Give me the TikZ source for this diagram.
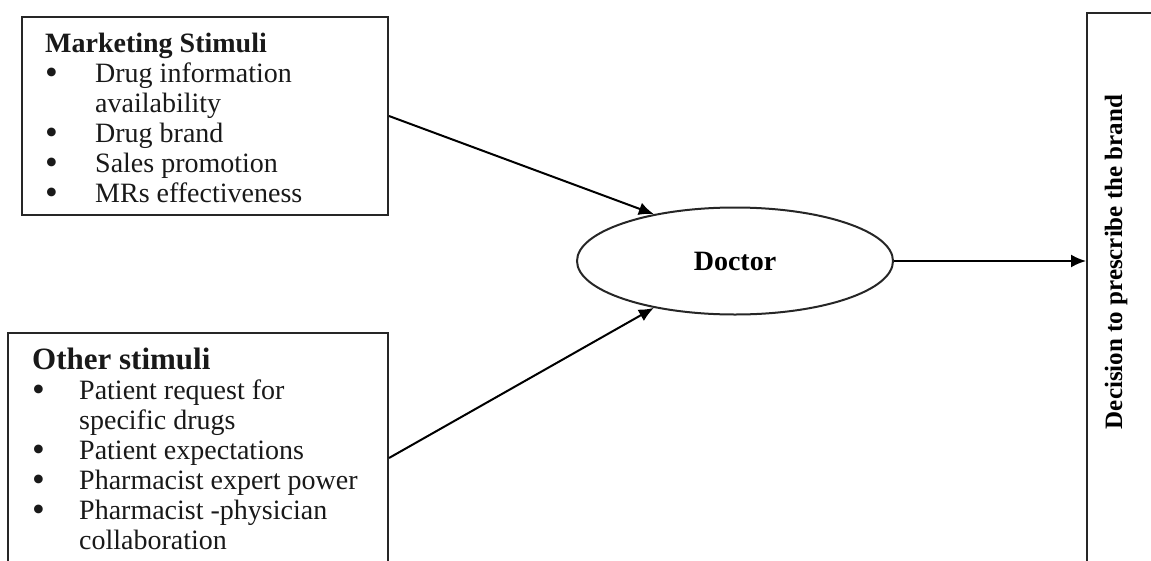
\documentclass[tikz,border=0pt]{standalone}
\usepackage{fontspec}
\setmainfont{Liberation Serif}
\usetikzlibrary{arrows,arrows.meta,positioning,shapes}

\newcommand{\itm}{\makebox[50pt][l]{\raisebox{-1.5pt}{\scalebox{1.3}{\textbullet}}}}
\newcommand{\itmb}{\makebox[47pt][l]{\raisebox{-1.5pt}{\scalebox{1.3}{\textbullet}}}}

\begin{document}
\begin{tikzpicture}[x=1pt,y=-1pt,
  box/.style={draw=black!85,line width=2pt,inner sep=0pt},
  lst/.style={anchor=north west,align=left,inner sep=0pt,text=black!90,font=\fontsize{28}{30}\selectfont},
  link/.style={-{Latex[length=15pt,width=13pt]},line width=2pt}]
\useasboundingbox (0,0) rectangle (1151,560);
\clip (0,0) rectangle (1151,560);
\node[box,minimum width=366pt,minimum height=198pt] (mkt) at (205,116) {};
\node[box,minimum width=380pt,minimum height=250pt] (oth) at (198,458) {};
\node[box,ellipse,minimum width=316pt,minimum height=107pt,font=\fontsize{28}{30}\selectfont\bfseries] (doc) at (735,261) {Doctor};
\node[box,minimum width=90pt,minimum height=580pt] (dec) at (1132,303) {};
\node[rotate=90,inner sep=0pt,font=\fontsize{25}{30}\selectfont\bfseries] (declbl) at (1116,262) {Decision to prescribe the brand};
\node[lst] (mkttxt) at (45,33) {\textbf{Marketing Stimuli}\\
  \itm Drug information\\
  \hspace*{50pt}availability\\
  \itm Drug brand\\
  \itm Sales promotion\\
  \itm MRs effectiveness};
\node[lst] (othtxt) at (32,348) {{\fontsize{31}{30}\selectfont\textbf{Other stimuli}}\\
  \itmb Patient request for\\
  \hspace*{47pt}specific drugs\\
  \itmb Patient expectations\\
  \itmb Pharmacist expert power\\
  \itmb Pharmacist -physician\\
  \hspace*{47pt}collaboration};
\draw[link] (mkt.east) -- (doc.150);
\draw[link] (oth.east) -- (doc.210);
\draw[link] (doc.east) -- (doc.east -| dec.west);
\end{tikzpicture}
\end{document}
